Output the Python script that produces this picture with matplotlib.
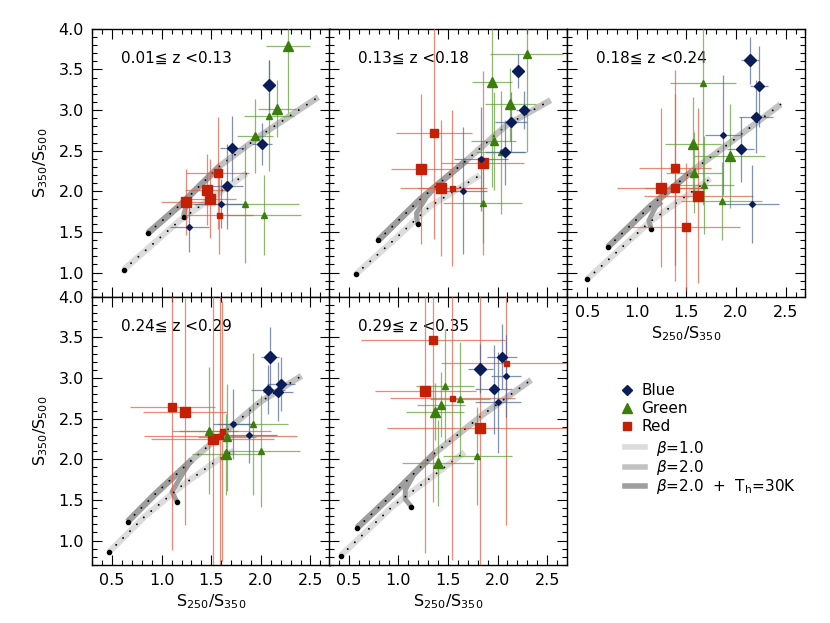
import matplotlib
matplotlib.use("Agg")
import matplotlib.pyplot as plt
from matplotlib.ticker import MultipleLocator
from matplotlib.lines import Line2D

plt.rcParams['font.family'] = ['DejaVu Sans', 'Noto Sans CJK JP']
plt.rcParams['mathtext.fontset'] = 'dejavusans'

z_bins = ["0.01≦ z <0.13", "0.13≦ z <0.18", "0.18≦ z <0.24",
          "0.24≦ z <0.29", "0.29≦ z <0.35"]

# colour-selected samples, one list per redshift bin
blue_x = [[2.08, 1.705, 2.01, 1.655, 1.597, 1.28],
          [2.202, 2.263, 2.138, 2.077, 1.832, 1.65],
          [2.14, 2.233, 2.203, 1.87, 2.046, 2.157],
          [2.09, 2.205, 2.074, 2.172, 1.721, 1.877],
          [2.047, 1.825, 2.087, 1.96, 2.004]]
blue_y = [[3.31, 2.53, 2.58, 2.06, 1.85, 1.56],
          [3.48, 3.0, 2.85, 2.478, 2.40, 2.01],
          [3.615, 3.294, 2.916, 2.69, 2.52, 1.84],
          [3.257, 2.93, 2.855, 2.834, 2.436, 2.30],
          [3.265, 3.117, 3.027, 2.863, 2.70]]
blue_xerr = [[0.067, 0.12, 0.10, 0.165, 0.27, 0.195],
             [0.06, 0.075, 0.16, 0.2, 0.27, 0.24],
             [0.09, 0.09, 0.17, 0.185, 0.14, 0.28],
             [0.09, 0.14, 0.17, 0.15, 0.2, 0.29],
             [0.15, 0.125, 0.15, 0.185, 0.23]]
blue_yerr = [[0.31, 0.4, 0.26, 0.52, 0.3, 0.31],
             [0.21, 0.23, 0.37, 0.4, 0.64, 0.78],
             [0.29, 0.5, 0.45, 0.74, 0.4, 0.48],
             [0.37, 0.33, 0.3, 0.36, 0.43, 0.35],
             [0.4, 0.3, 0.5, 0.55, 0.62]]
blue_n = [[3, 2, 2, 2, 1, 1],
          [3, 2, 2, 2, 1, 1],
          [3, 2, 2, 1, 2, 1],
          [3, 2, 2, 2, 1, 1],
          [2, 3, 1, 2, 1]]

green_x = [[2.276, 2.165, 2.08, 1.94, 1.836, 2.03],
           [2.293, 1.946, 2.13, 1.96, 2.037, 1.85],
           [1.669, 1.568, 1.575, 1.935, 1.68, 1.857],
           [1.473, 1.658, 1.645, 1.92, 2.004],
           [1.469, 1.62, 1.432, 1.369, 1.40, 1.795]]
green_y = [[3.79, 3.015, 2.93, 2.68, 1.85, 1.71],
           [3.69, 3.35, 3.07, 2.62, 2.478, 1.86],
           [3.335, 2.58, 2.23, 2.43, 2.08, 1.88],
           [2.353, 2.272, 2.063, 2.436, 2.10],
           [2.908, 2.74, 2.67, 2.587, 1.952, 2.04]]
green_xerr = [[0.22, 0.19, 0.25, 0.18, 0.55, 0.37],
              [0.37, 0.2, 0.26, 0.23, 0.25, 0.4],
              [0.33, 0.28, 0.28, 0.36, 0.3, 0.41],
              [0.3, 0.29, 0.34, 0.35, 0.39],
              [0.29, 0.3, 0.24, 0.29, 0.36, 0.35]]
green_yerr = [[0.83, 0.35, 0.68, 0.45, 0.73, 0.49],
              [1.2, 1.3, 0.45, 0.6, 0.76, 0.5],
              [1.5, 0.58, 0.5, 0.64, 0.6, 0.48],
              [0.78, 0.66, 0.5, 0.87, 0.69],
              [0.69, 0.7, 0.4, 0.35, 0.53, 0.6]]
green_n = [[3, 3, 1, 2, 1, 1],
           [2, 3, 3, 2, 1, 1],
           [1, 3, 2, 3, 1, 1],
           [2, 2, 3, 1, 1],
           [1, 1, 2, 3, 3, 1]]

red_x = [[1.564, 1.456, 1.486, 1.25, 1.577],
         [1.358, 1.227, 1.432, 1.543, 1.85],
         [1.384, 1.246, 1.384, 1.618, 1.495],
         [1.106, 1.234, 1.514, 1.604, 1.59],
         [1.348, 1.271, 1.543, 2.087, 1.825]]
red_y = [[2.23, 2.02, 1.91, 1.87, 1.705],
         [2.72, 2.276, 2.04, 2.04, 2.35],
         [2.29, 2.047, 2.047, 1.948, 1.56],
         [2.649, 2.587, 2.25, 2.353, 2.29],
         [3.47, 2.842, 2.76, 3.19, 2.39]]
red_xerr = [[0.32, 0.22, 0.26, 0.26, 0.34],
            [0.38, 0.3, 0.42, 0.35, 0.42],
            [0.36, 0.45, 0.3, 0.55, 0.55],
            [0.43, 0.42, 0.62, 0.5, 0.77],
            [0.73, 0.51, 0.63, 0.66, 0.94]]
red_yerr = [[0.69, 0.44, 0.49, 0.41, 0.47],
            [1.31, 0.92, 0.84, 0.96, 1.13],
            [1.2, 0.98, 1.15, 1.08, 0.79],
            [1.76, 1.4, 1.8, 1.6, 1.8],
            [2.0, 2.0, 2.0, 2.0, 2.0]]
red_n = [[2, 3, 3, 3, 1],
         [2, 3, 3, 1, 3],
         [2, 3, 2, 3, 2],
         [2, 3, 3, 1, 1],
         [2, 3, 1, 1, 3]]

# model tracks
beta1_x = [[0.617, 1.184, 1.856],
           [0.569, 0.982, 1.318, 1.822],
           [0.5, 1.129, 1.743],
           [0.471, 0.834, 1.204, 1.574, 1.728],
           [0.418, 0.945, 1.668]]
beta1_y = [[1.037, 1.644, 2.22],
           [0.979, 1.431, 1.816, 2.198],
           [0.921, 1.623, 2.158],
           [0.863, 1.303, 1.676, 2.0, 2.107],
           [0.814, 1.426, 2.087]]
beta2_x = [[0.864, 1.184, 1.587, 2.024, 2.58],
           [0.797, 1.217, 1.688, 2.091, 2.535],
           [0.708, 1.129, 1.558, 1.996, 2.449],
           [0.657, 0.935, 1.305, 1.99, 2.41],
           [0.585, 0.996, 1.365, 1.87, 2.339]]
beta2_y = [[1.488, 1.829, 2.313, 2.71, 3.16],
           [1.398, 1.899, 2.383, 2.814, 3.122],
           [1.315, 1.808, 2.251, 2.65, 3.069],
           [1.233, 1.574, 1.993, 2.703, 3.027],
           [1.159, 1.632, 2.075, 2.567, 2.978]]
hot_x = [[1.22, 1.224, 1.285, 1.33],
         [1.194, 1.18, 1.285, 1.36],
         [1.145, 1.12, 1.189, 1.25],
         [1.154, 1.103, 1.204, 1.3],
         [1.13, 1.069, 1.069, 1.164, 1.26]]
hot_y = [[1.69, 1.727, 1.95, 2.0],
         [1.595, 1.727, 1.931, 2.03],
         [1.537, 1.64, 1.808, 1.87],
         [1.479, 1.602, 1.808, 1.99],
         [1.418, 1.509, 1.623, 1.829, 1.95]]

c_blue, c_green, c_red = '#0b1d58', '#3b7e0c', '#c32005'
e_blue, e_green, e_red = '#4a6294', '#5f9a35', '#dd5a40'
c_b1, c_b2, c_hot = '#dcdcdc', '#c2c2c2', '#9e9e9e'

fig = plt.figure(figsize=(8.3, 6.23), dpi=100)
lefts = [0.1112, 0.3964, 0.6837, 0.1112, 0.3964]
bottoms = [0.5233, 0.5233, 0.5233, 0.0931, 0.0931]
w, h = 0.2867, 0.4305

dots = dict(color='black', lw=1.4, linestyle=(0, (0.01, 5.0)),
            dash_capstyle='round', zorder=3)

for i in range(5):
    ax = fig.add_axes([lefts[i], bottoms[i], w, h])
    # tracks
    ax.plot(beta1_x[i], beta1_y[i], color=c_b1, lw=4.5, solid_capstyle='butt', zorder=1)
    ax.plot(beta2_x[i], beta2_y[i], color=c_b2, lw=4.5, solid_capstyle='butt', zorder=1)
    ax.plot(beta2_x[i][:3], beta2_y[i][:3], color=c_hot, lw=4.5, solid_capstyle='butt', zorder=1.1)
    ax.plot(hot_x[i], hot_y[i], color=c_hot, lw=3.5, solid_capstyle='butt', zorder=1.1)
    ax.plot(beta1_x[i], beta1_y[i], **dots)
    ax.plot(beta2_x[i], beta2_y[i], **dots)
    ax.plot([beta1_x[i][0], beta2_x[i][0], hot_x[i][0]],
            [beta1_y[i][0], beta2_y[i][0], hot_y[i][0]],
            'o', color='black', ms=3, zorder=3)

    for xs, ys, xe, ye, ns, mk, mc, ec, base in [
            (red_x, red_y, red_xerr, red_yerr, red_n, 's', c_red, e_red, 3.6),
            (green_x, green_y, green_xerr, green_yerr, green_n, '^', c_green, e_green, 4.0),
            (blue_x, blue_y, blue_xerr, blue_yerr, blue_n, 'D', c_blue, e_blue, 3.0)]:
        for j in range(len(xs[i])):
            ax.errorbar(xs[i][j], ys[i][j], xerr=xe[i][j], yerr=ye[i][j],
                        fmt='none', ecolor=ec, elinewidth=0.9, alpha=0.7,
                        capsize=0, zorder=4)
        for j in range(len(xs[i])):
            ax.plot(xs[i][j], ys[i][j], mk, color=mc, mec=mc,
                    ms=base + 1.6 * (ns[i][j] - 1), zorder=5)

    ax.set_xlim(0.3, 2.7)
    ax.set_ylim(0.7, 4.0)
    ax.xaxis.set_major_locator(MultipleLocator(0.5))
    ax.xaxis.set_minor_locator(MultipleLocator(0.1))
    ax.yaxis.set_major_locator(MultipleLocator(0.5))
    ax.yaxis.set_minor_locator(MultipleLocator(0.1))
    ax.tick_params(which='both', direction='in', top=True, right=True,
                   labelsize=11.5, width=0.8, pad=6)
    ax.tick_params(which='major', length=7)
    ax.tick_params(which='minor', length=3.5)
    for s in ax.spines.values():
        s.set_linewidth(1.0)

    ax.text(0.12, 0.89, z_bins[i], transform=ax.transAxes, fontsize=11,
            va='center', ha='left')

    if i in (0, 3):
        ax.set_ylabel('S$_{350}$/S$_{500}$', fontsize=11.5, labelpad=6)
    else:
        ax.tick_params(labelleft=False)
    if i in (2, 3, 4):
        ax.set_xlabel('S$_{250}$/S$_{350}$', fontsize=11.5, labelpad=3)
    else:
        ax.tick_params(labelbottom=False)

h_pts = [Line2D([], [], marker='D', ls='none', color=c_blue, ms=5),
         Line2D([], [], marker='^', ls='none', color=c_green, ms=6.5),
         Line2D([], [], marker='s', ls='none', color=c_red, ms=6)]
fig.legend(h_pts, ['Blue', 'Green', 'Red'], loc='upper left',
           bbox_to_anchor=(0.73, 0.407), frameon=False, fontsize=11,
           handlelength=1.0, handletextpad=0.4, labelspacing=0.2)

h_lines = [Line2D([], [], color=c_b1, lw=4),
           Line2D([], [], color=c_b2, lw=4),
           Line2D([], [], color=c_hot, lw=4)]
fig.legend(h_lines, [r'$\beta$=1.0', r'$\beta$=2.0',
                     r'$\beta$=2.0  +  T$_\mathrm{h}$=30K'],
           loc='upper left', bbox_to_anchor=(0.737, 0.318), frameon=False,
           fontsize=11, handlelength=1.3, handletextpad=0.7, labelspacing=0.02)

fig.savefig('out.png', dpi=100)
